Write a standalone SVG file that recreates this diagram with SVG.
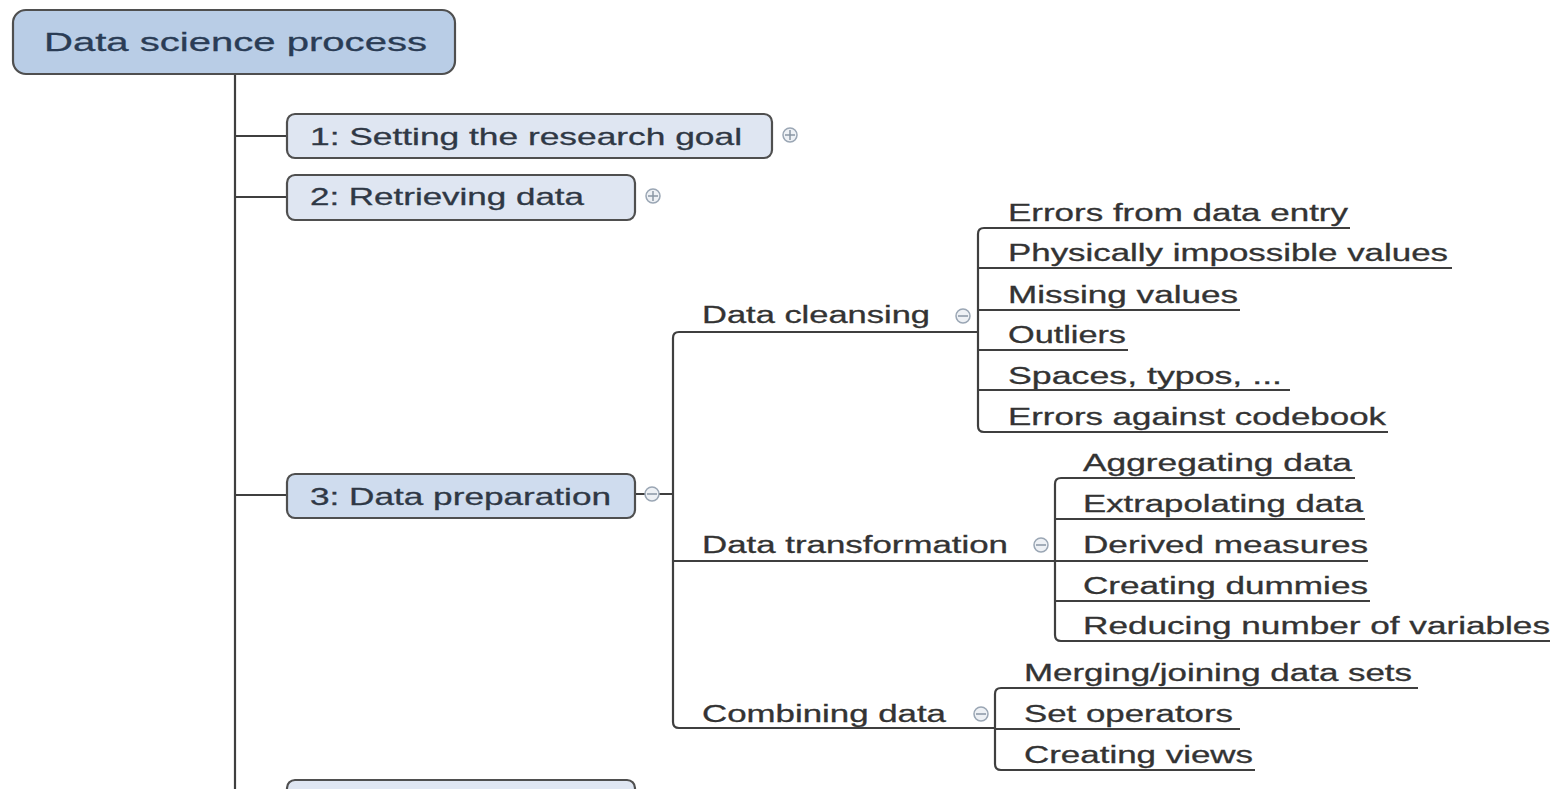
<svg xmlns="http://www.w3.org/2000/svg" width="1555" height="789" viewBox="0 0 1555 789">
<style>
.ln{fill:none;stroke:#3f3f3f;stroke-width:2.2}
.box{stroke:#4f4f4f;stroke-width:2.2}
.t{font-family:"Liberation Sans",Arial,sans-serif;font-size:23px;fill:#333333;stroke:#333333;stroke-width:0.3}
.bt{font-family:"Liberation Sans",Arial,sans-serif;font-size:24px;fill:#2f3845;stroke:#2f3845;stroke-width:0.3}
.ic{fill:#eef1f5;stroke:#9aa6b4;stroke-width:1.5}
.icl{stroke:#8a96a4;stroke-width:1.5}
</style>
<rect width="1555" height="789" fill="#ffffff"/>
<g id="connectors">
<path class="ln" d="M235 74 V789"/>
<path class="ln" d="M235 136 H287 M235 197 H287 M235 495 H287"/>
<path class="ln" d="M635 494 H673"/>
<path class="ln" d="M978 332 H679 Q673 332 673 338 V722 Q673 728 679 728 H995"/>
<path class="ln" d="M673 561 H1055"/>
<path class="ln" d="M1350 228 H984 Q978 228 978 234 V426 Q978 432 984 432 H1388"/>
<path class="ln" d="M978 268 H1452 M978 310 H1240 M978 350 H1128 M978 390 H1290"/>
<path class="ln" d="M1355 478 H1061 Q1055 478 1055 484 V635 Q1055 641 1061 641 H1550"/>
<path class="ln" d="M1055 519 H1365 M1055 561 H1368 M1055 601 H1370"/>
<path class="ln" d="M1418 688 H1001 Q995 688 995 694 V764 Q995 770 1001 770 H1255"/>
<path class="ln" d="M995 729 H1240"/>
</g>
<g id="root">
<rect class="box" x="13" y="10" width="442" height="64" rx="13" fill="#b9cde6"/>
<text class="bt" x="44" y="51" textLength="383" lengthAdjust="spacingAndGlyphs" style="font-size:26px;fill:#2a3c55;stroke:#2a3c55">Data science process</text>
</g>
<g id="n1">
<rect class="box" x="287" y="114" width="485" height="44" rx="8" fill="#dfe6f2"/>
<text class="bt" x="310" y="145" textLength="432" lengthAdjust="spacingAndGlyphs">1: Setting the research goal</text>
<circle class="ic" cx="790" cy="135" r="7"/><path class="icl" d="M785 135 H795 M790 130 V140"/>
</g>
<g id="n2">
<rect class="box" x="287" y="175" width="348" height="45" rx="8" fill="#dfe6f2"/>
<text class="bt" x="310" y="205" textLength="274" lengthAdjust="spacingAndGlyphs">2: Retrieving data</text>
<circle class="ic" cx="653" cy="196" r="7"/><path class="icl" d="M648 196 H658 M653 191 V201"/>
</g>
<g id="n3">
<rect class="box" x="287" y="474" width="348" height="44" rx="8" fill="#cfdcee"/>
<text class="bt" x="310" y="505" textLength="301" lengthAdjust="spacingAndGlyphs">3: Data preparation</text>
<circle class="ic" cx="652" cy="494" r="7"/><path class="icl" d="M647 494 H657"/>
</g>
<g id="n4">
<rect class="box" x="287" y="780" width="348" height="44" rx="8" fill="#dfe6f2"/>
</g>
<g id="cleansing">
<text class="t" x="702" y="323" textLength="228" lengthAdjust="spacingAndGlyphs">Data cleansing</text>
<circle class="ic" cx="963" cy="316" r="7"/><path class="icl" d="M958 316 H968"/>
</g>
<g id="transformation">
<text class="t" x="702" y="553" textLength="306" lengthAdjust="spacingAndGlyphs">Data transformation</text>
<circle class="ic" cx="1041" cy="545" r="7"/><path class="icl" d="M1036 545 H1046"/>
</g>
<g id="combining">
<text class="t" x="702" y="722" textLength="244" lengthAdjust="spacingAndGlyphs">Combining data</text>
<circle class="ic" cx="981" cy="714" r="7"/><path class="icl" d="M976 714 H986"/>
</g>
<g id="c1"><text class="t" x="1008" y="221" textLength="340" lengthAdjust="spacingAndGlyphs">Errors from data entry</text></g>
<g id="c2"><text class="t" x="1008" y="261" textLength="440" lengthAdjust="spacingAndGlyphs">Physically impossible values</text></g>
<g id="c3"><text class="t" x="1008" y="303" textLength="230" lengthAdjust="spacingAndGlyphs">Missing values</text></g>
<g id="c4"><text class="t" x="1008" y="343" textLength="118" lengthAdjust="spacingAndGlyphs">Outliers</text></g>
<g id="c5"><text class="t" x="1008" y="384" textLength="274" lengthAdjust="spacingAndGlyphs">Spaces, typos, ...</text></g>
<g id="c6"><text class="t" x="1008" y="425" textLength="378" lengthAdjust="spacingAndGlyphs">Errors against codebook</text></g>
<g id="t1"><text class="t" x="1083" y="471" textLength="269" lengthAdjust="spacingAndGlyphs">Aggregating data</text></g>
<g id="t2"><text class="t" x="1083" y="512" textLength="280" lengthAdjust="spacingAndGlyphs">Extrapolating data</text></g>
<g id="t3"><text class="t" x="1083" y="553" textLength="285" lengthAdjust="spacingAndGlyphs">Derived measures</text></g>
<g id="t4"><text class="t" x="1083" y="594" textLength="285" lengthAdjust="spacingAndGlyphs">Creating dummies</text></g>
<g id="t5"><text class="t" x="1083" y="634" textLength="467" lengthAdjust="spacingAndGlyphs">Reducing number of variables</text></g>
<g id="m1"><text class="t" x="1024" y="681" textLength="388" lengthAdjust="spacingAndGlyphs">Merging/joining data sets</text></g>
<g id="m2"><text class="t" x="1024" y="722" textLength="209" lengthAdjust="spacingAndGlyphs">Set operators</text></g>
<g id="m3"><text class="t" x="1024" y="763" textLength="229" lengthAdjust="spacingAndGlyphs">Creating views</text></g>
</svg>
